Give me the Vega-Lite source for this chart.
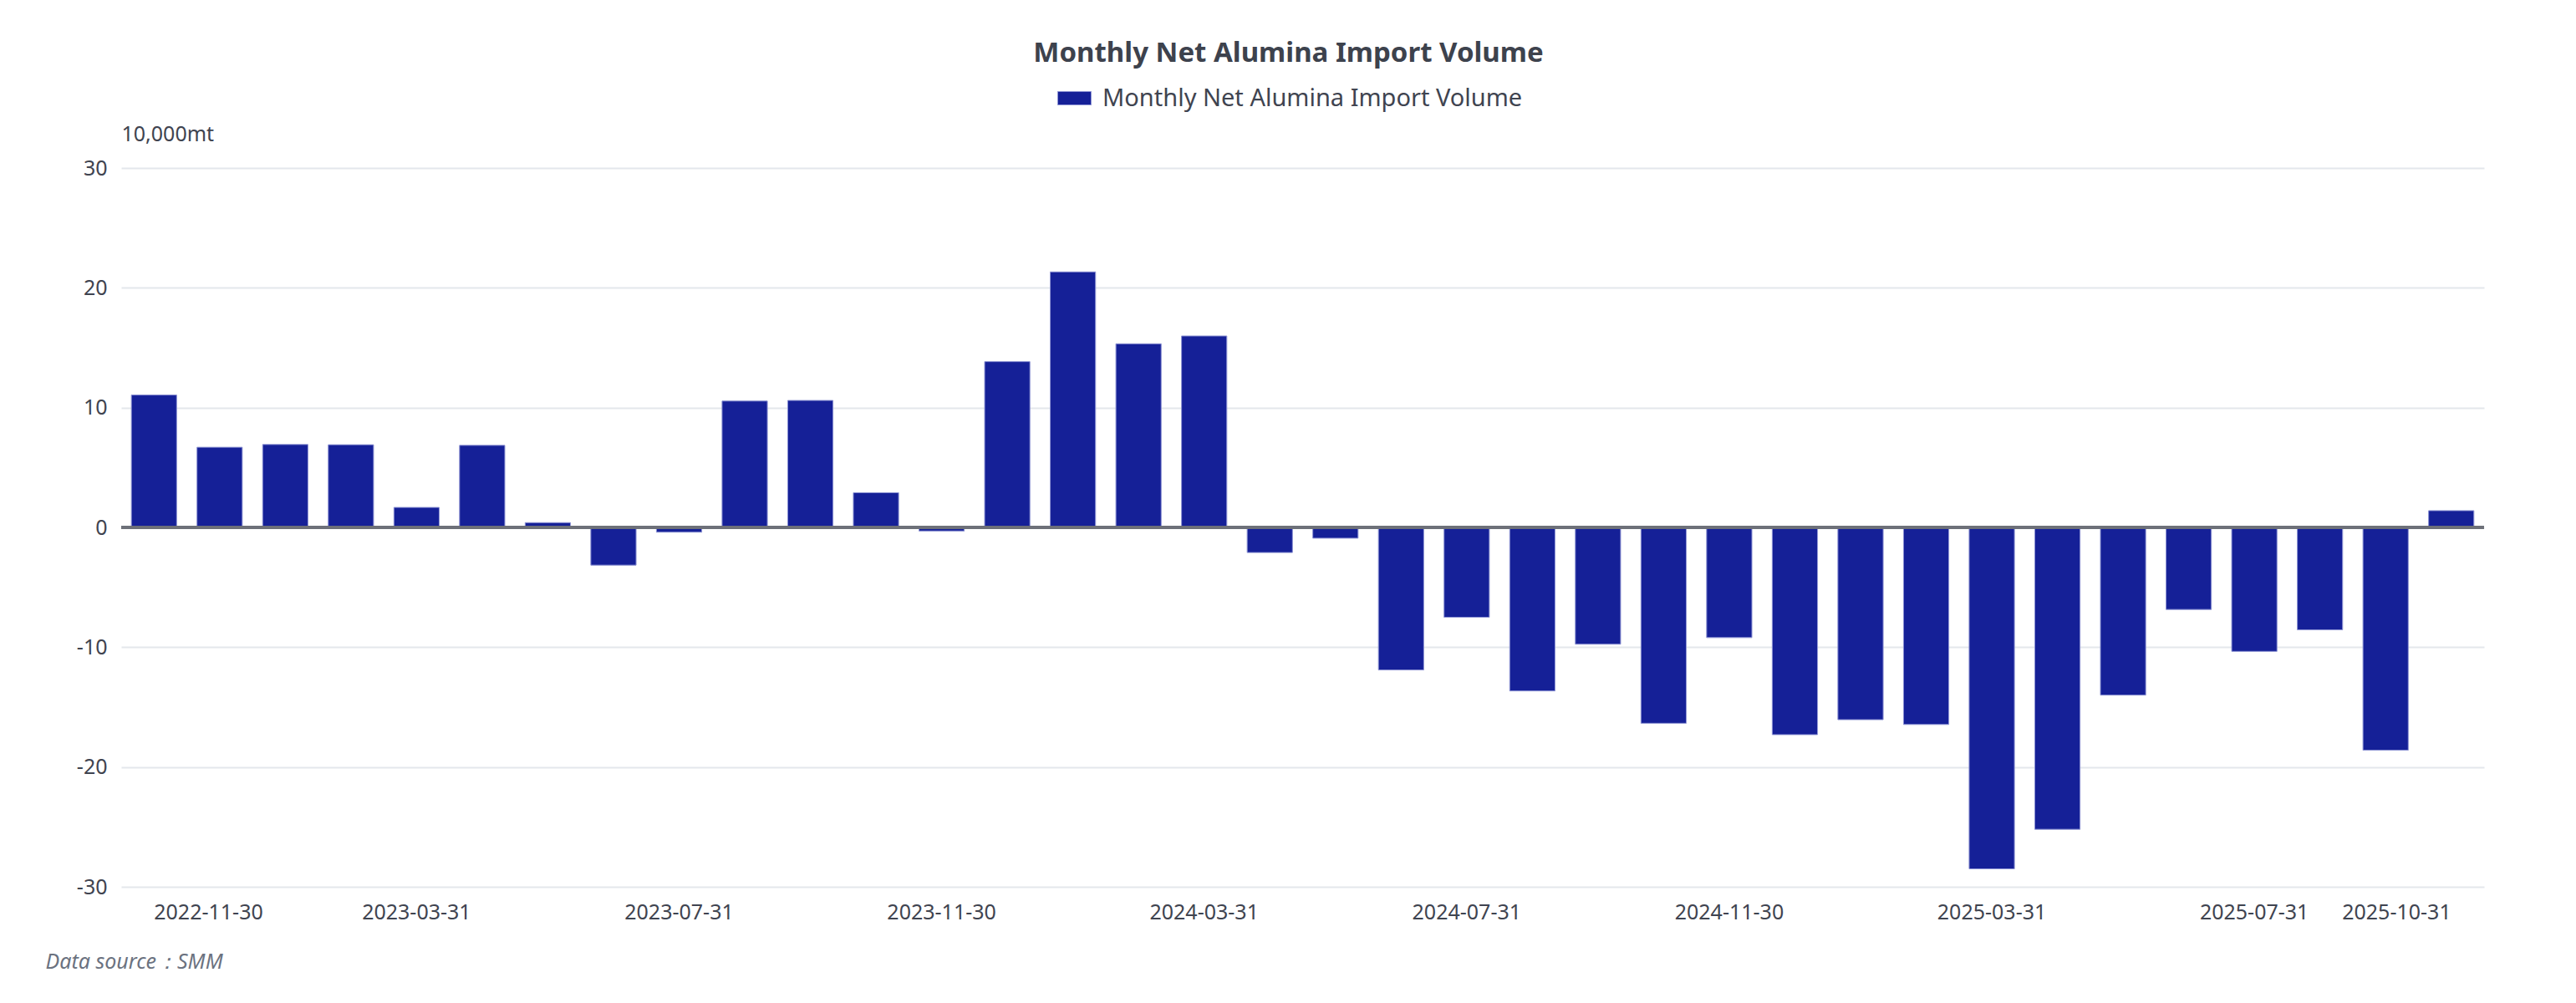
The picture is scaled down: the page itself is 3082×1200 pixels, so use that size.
{
  "$schema": "https://vega.github.io/schema/vega-lite/v6.json",
  "width": 2827,
  "height": 860,
  "autosize": {"type": "none"},
  "padding": {"left": 145, "top": 201, "right": 110, "bottom": 139},
  "background": "#ffffff",
  "title": {
    "text": "Monthly Net Alumina Import Volume",
    "anchor": "middle",
    "font": "Noto Sans",
    "fontSize": 33,
    "fontWeight": "bold",
    "color": "#3D424D",
    "dx": -17,
    "dy": 4,
    "offset": 20
  },
  "config": {
    "view": {"stroke": null},
    "font": "Noto Sans"
  },
  "data": {
    "values": [
      {"date": "2022-11-30", "value": 11.05},
      {"date": "2022-12-31", "value": 6.69},
      {"date": "2023-01-31", "value": 6.92},
      {"date": "2023-02-28", "value": 6.90},
      {"date": "2023-03-31", "value": 1.67},
      {"date": "2023-04-30", "value": 6.85},
      {"date": "2023-05-31", "value": 0.4},
      {"date": "2023-06-30", "value": -3.15},
      {"date": "2023-07-31", "value": -0.4},
      {"date": "2023-08-31", "value": 10.55},
      {"date": "2023-09-30", "value": 10.6},
      {"date": "2023-10-31", "value": 2.9},
      {"date": "2023-11-30", "value": -0.3},
      {"date": "2023-12-31", "value": 13.84},
      {"date": "2024-01-31", "value": 21.33},
      {"date": "2024-02-29", "value": 15.33},
      {"date": "2024-03-31", "value": 15.98},
      {"date": "2024-04-30", "value": -2.1},
      {"date": "2024-05-31", "value": -0.9},
      {"date": "2024-06-30", "value": -11.9},
      {"date": "2024-07-31", "value": -7.5},
      {"date": "2024-08-31", "value": -13.65},
      {"date": "2024-09-30", "value": -9.75},
      {"date": "2024-10-31", "value": -16.35},
      {"date": "2024-11-30", "value": -9.2},
      {"date": "2024-12-31", "value": -17.3},
      {"date": "2025-01-31", "value": -16.05},
      {"date": "2025-02-28", "value": -16.45},
      {"date": "2025-03-31", "value": -28.5},
      {"date": "2025-04-30", "value": -25.2},
      {"date": "2025-05-31", "value": -14.0},
      {"date": "2025-06-30", "value": -6.85},
      {"date": "2025-07-31", "value": -10.35},
      {"date": "2025-08-31", "value": -8.55},
      {"date": "2025-09-30", "value": -18.6},
      {"date": "2025-10-31", "value": 1.4}
    ]
  },
  "layer": [
    {
      "mark": {"type": "bar", "stroke": "#8F95D4", "strokeWidth": 1},
      "encoding": {
        "x": {
          "field": "date",
          "type": "ordinal",
          "scale": {"paddingInner": 0.31, "paddingOuter": 0.155},
          "axis": {
            "values": ["2022-11-30", "2023-03-31", "2023-07-31", "2023-11-30", "2024-03-31", "2024-07-31", "2024-11-30", "2025-03-31", "2025-07-31", "2025-10-31"],
            "labelAngle": 0,
            "labelFlush": 80,
            "labelFont": "Noto Sans",
            "labelFontSize": 25,
            "labelColor": "#3F4450",
            "labelPadding": 18,
            "domain": false,
            "ticks": false,
            "grid": false,
            "title": "Data source：SMM",
            "titleFont": "Noto Sans",
            "titleFontSize": 25,
            "titleFontStyle": "italic",
            "titleFontWeight": "normal",
            "titleColor": "#6B7280",
            "titleAnchor": "start",
            "titleAlign": "left",
            "titleBaseline": "middle",
            "titleX": -91,
            "titleY": 89
          }
        },
        "y": {
          "field": "value",
          "type": "quantitative",
          "scale": {"domain": [-30, 30], "nice": false},
          "axis": {
            "values": [-30, -20, -10, 0, 10, 20, 30],
            "labelExpr": "toString(datum.value)",
            "labelFont": "Noto Sans",
            "labelFontSize": 25,
            "labelColor": "#3F4450",
            "labelPadding": 17,
            "domain": false,
            "ticks": false,
            "grid": true,
            "gridColor": "#E4E7EC",
            "gridWidth": 2,
            "title": "10,000mt",
            "titleFont": "Noto Sans",
            "titleFontSize": 25,
            "titleFontWeight": "normal",
            "titleColor": "#3F4450",
            "titleAngle": 0,
            "titleAlign": "left",
            "titleBaseline": "middle",
            "titleX": 0,
            "titleY": -41
          }
        },
        "color": {
          "datum": "Monthly Net Alumina Import Volume",
          "type": "nominal",
          "scale": {"range": ["#152097"]},
          "legend": {
            "title": null,
            "orient": "none",
            "legendX": 1120,
            "legendY": -104,
            "padding": 0,
            "symbolType": "M-1,-0.4H1V0.4H-1Z",
            "symbolSize": 1600,
            "symbolStrokeColor": "#8F95D4",
            "symbolStrokeWidth": 1,
            "labelFont": "Noto Sans",
            "labelFontSize": 29,
            "labelLimit": 0,
            "labelColor": "#3F4450",
            "labelOffset": 13
          }
        }
      }
    },
    {
      "mark": {"type": "rule", "color": "#6E7079", "strokeWidth": 2.5},
      "encoding": {"y": {"datum": 0}}
    }
  ]
}
